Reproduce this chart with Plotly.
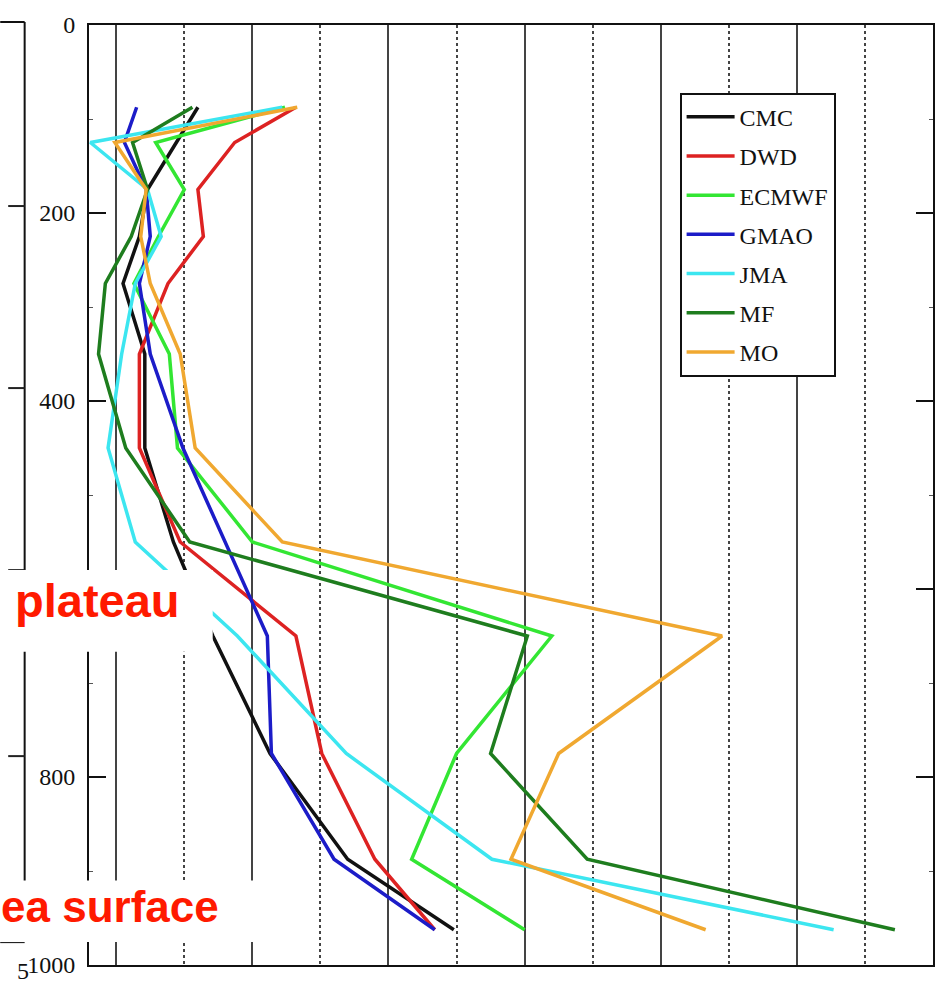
import plotly.graph_objects as go

# Pressure levels (hPa, layer mid-points)
levels = [87.5, 125, 175, 225, 275, 350, 450, 550, 650, 775, 887.5, 962.5]

# Series values (x units)
CMC = [1.60, 1.44, 1.23, 1.17, 1.05, 1.21, 1.21, 1.42, 1.71, 2.13, 2.70, 3.48]
DWD = [2.32, 1.87, 1.60, 1.64, 1.38, 1.17, 1.17, 1.47, 2.32, 2.51, 2.90, 3.34]
ECMWF = [2.24, 1.29, 1.50, 1.31, 1.13, 1.39, 1.45, 2.00, 4.20, 3.50, 3.17, 4.00]
GMAO = [1.15, 1.06, 1.22, 1.25, 1.17, 1.25, 1.49, 1.80, 2.11, 2.14, 2.60, 3.34]
JMA = [2.22, 0.81, 1.23, 1.33, 1.14, 1.04, 0.94, 1.14, 1.89, 2.69, 3.76, 6.27]
MF = [1.56, 1.12, 1.23, 1.11, 0.92, 0.87, 1.07, 1.54, 4.02, 3.75, 4.46, 6.72]
MO = [2.33, 0.99, 1.22, 1.18, 1.25, 1.47, 1.58, 2.22, 5.45, 4.25, 3.90, 5.33]

series_names = ["CMC", "DWD", "ECMWF", "GMAO", "JMA", "MF", "MO"]
series_values = [CMC, DWD, ECMWF, GMAO, JMA, MF, MO]
series_colors = ["#111111", "#dd2222", "#33e633", "#1c1cc8", "#3ce6f0", "#1e7d1e", "#f0a830"]

# tick at 600 is hidden behind the "plateau" label in the reference
y_tickvals = [0, 200, 400, 600, 800, 1000]
y_ticktext = ["0", "200", "400", "", "800", "1000"]

W, H = 942, 985
ML, MR, MT, MB = 89, 7, 25, 15
PW, PH = W - ML - MR, H - MT - MB


def px(x):
    return (x - ML) / PW


def py(y):
    return (H - MB - y) / PH


fig = go.Figure()
for i, (name, vals, col) in enumerate(zip(series_names, series_values, series_colors)):
    fig.add_trace(go.Scatter(
        x=vals, y=levels, mode="lines", name=name,
        line=dict(color=col, width=3.5), legendgroup=name,
    ))

serif = "Liberation Serif, Times New Roman, serif"

fig.update_layout(
    width=W, height=H,
    margin=dict(l=ML, r=MR, t=MT, b=MB, pad=0),
    plot_bgcolor="white", paper_bgcolor="white",
    showlegend=True,
    legend=dict(
        x=px(681), y=py(93), xanchor="left", yanchor="top",
        bgcolor="white", bordercolor="#111111", borderwidth=2,
        font=dict(family=serif, size=24, color="#111111"),
        tracegroupgap=5, traceorder="grouped", itemwidth=48,
    ),
    xaxis=dict(
        range=[0.8, 7.0], showticklabels=False, ticks="",
        showline=True, linecolor="#111111", linewidth=2, mirror=True,
        showgrid=True, dtick=1, tick0=0, gridcolor="#444444", gridwidth=1.5,
        minor=dict(dtick=0.5, tick0=0, showgrid=True, gridcolor="#444444",
                   griddash="dot", gridwidth=1.5),
        zeroline=False,
    ),
    yaxis=dict(
        range=[1000, 0], tickvals=y_tickvals, ticktext=y_ticktext,
        ticks="inside", ticklen=17, tickwidth=2, tickcolor="#111111",
        showline=True, linecolor="#111111", linewidth=2, mirror="ticks",
        showgrid=False, zeroline=False,
        tickfont=dict(family=serif, size=24, color="#111111"),
        ticklabelstandoff=7,
        minor=dict(tickvals=[100, 300, 500, 700, 900], ticks="inside",
                   ticklen=4, tickcolor="#555555", tickwidth=1),
    ),
)

shapes = []
# neighbouring panel fragment on the far left
shapes.append(dict(type="line", xref="paper", yref="paper",
                   x0=px(24.5), x1=px(24.5), y0=py(22), y1=py(947),
                   line=dict(color="#111111", width=2)))
shapes.append(dict(type="line", xref="paper", yref="paper",
                   x0=px(0), x1=px(24.5), y0=py(22), y1=py(22),
                   line=dict(color="#111111", width=2)))
for ty in [207, 390, 573, 760]:
    shapes.append(dict(type="line", xref="paper", yref="paper",
                       x0=px(8), x1=px(24.5), y0=py(ty), y1=py(ty),
                       line=dict(color="#222222", width=2)))
shapes.append(dict(type="line", xref="paper", yref="paper",
                   x0=px(0), x1=px(24.5), y0=py(947), y1=py(947),
                   line=dict(color="#222222", width=2)))
# white label boxes
shapes.append(dict(type="rect", xref="paper", yref="paper", layer="above",
                   x0=px(-5), x1=px(213), y0=py(655), y1=py(573),
                   fillcolor="white", line=dict(width=0)))
shapes.append(dict(type="rect", xref="paper", yref="paper", layer="above",
                   x0=px(-5), x1=px(262), y0=py(947), y1=py(885),
                   fillcolor="white", line=dict(width=0)))
fig.update_layout(shapes=shapes)

sans = "Liberation Sans, Arial, sans-serif"
fig.add_annotation(text="<b>plateau</b>", xref="paper", yref="paper",
                   x=px(13), y=py(604), xanchor="left", yanchor="middle",
                   showarrow=False, font=dict(family=sans, size=47, color="#ff1a00"))
fig.add_annotation(text="<b>ea surface</b>", xref="paper", yref="paper",
                   x=px(-1), y=py(911), xanchor="left", yanchor="middle",
                   showarrow=False, font=dict(family=sans, size=44, color="#ff1a00"))
fig.add_annotation(text="5", xref="paper", yref="paper",
                   x=px(23), y=py(976), xanchor="center", yanchor="middle",
                   showarrow=False, font=dict(family=serif, size=24, color="#111111"))

fig.write_html("out.html")
